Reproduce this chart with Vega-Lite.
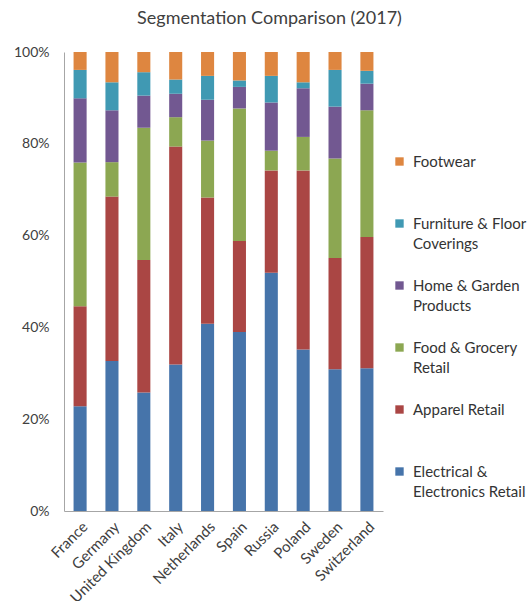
{
  "$schema": "https://vega.github.io/schema/vega-lite/v6.json",
  "autosize": {"type": "none"},
  "width": 319,
  "height": 459,
  "padding": {"left": 64, "top": 52, "right": 147, "bottom": 90},
  "background": "white",
  "title": {
    "text": "Segmentation Comparison (2017)",
    "font": "Lato",
    "fontSize": 18,
    "fontWeight": "normal",
    "color": "#404040",
    "anchor": "middle",
    "dx": 46,
    "baseline": "alphabetic",
    "offset": 3
  },
  "datasets": {
    "seg": [
      {"s": "Electrical & Electronics Retail", "k": 1},
      {"s": "Apparel Retail", "k": 2},
      {"s": "Food & Grocery Retail", "k": 3},
      {"s": "Home & Garden Products", "k": 4},
      {"s": "Furniture & Floor Coverings", "k": 5},
      {"s": "Footwear", "k": 6}
    ]
  },
  "data": {
    "values": [
      {"c": "France", "s": "Electrical & Electronics Retail", "v": 22.8},
      {"c": "France", "s": "Apparel Retail", "v": 21.8},
      {"c": "France", "s": "Food & Grocery Retail", "v": 31.3},
      {"c": "France", "s": "Home & Garden Products", "v": 14.0},
      {"c": "France", "s": "Furniture & Floor Coverings", "v": 6.2},
      {"c": "France", "s": "Footwear", "v": 3.9},
      {"c": "Germany", "s": "Electrical & Electronics Retail", "v": 32.7},
      {"c": "Germany", "s": "Apparel Retail", "v": 35.8},
      {"c": "Germany", "s": "Food & Grocery Retail", "v": 7.5},
      {"c": "Germany", "s": "Home & Garden Products", "v": 11.3},
      {"c": "Germany", "s": "Furniture & Floor Coverings", "v": 6.1},
      {"c": "Germany", "s": "Footwear", "v": 6.6},
      {"c": "United Kingdom", "s": "Electrical & Electronics Retail", "v": 25.8},
      {"c": "United Kingdom", "s": "Apparel Retail", "v": 28.9},
      {"c": "United Kingdom", "s": "Food & Grocery Retail", "v": 28.8},
      {"c": "United Kingdom", "s": "Home & Garden Products", "v": 7.0},
      {"c": "United Kingdom", "s": "Furniture & Floor Coverings", "v": 5.1},
      {"c": "United Kingdom", "s": "Footwear", "v": 4.4},
      {"c": "Italy", "s": "Electrical & Electronics Retail", "v": 31.9},
      {"c": "Italy", "s": "Apparel Retail", "v": 47.5},
      {"c": "Italy", "s": "Food & Grocery Retail", "v": 6.4},
      {"c": "Italy", "s": "Home & Garden Products", "v": 5.1},
      {"c": "Italy", "s": "Furniture & Floor Coverings", "v": 3.1},
      {"c": "Italy", "s": "Footwear", "v": 6.0},
      {"c": "Netherlands", "s": "Electrical & Electronics Retail", "v": 40.8},
      {"c": "Netherlands", "s": "Apparel Retail", "v": 27.5},
      {"c": "Netherlands", "s": "Food & Grocery Retail", "v": 12.4},
      {"c": "Netherlands", "s": "Home & Garden Products", "v": 8.9},
      {"c": "Netherlands", "s": "Furniture & Floor Coverings", "v": 5.2},
      {"c": "Netherlands", "s": "Footwear", "v": 5.2},
      {"c": "Spain", "s": "Electrical & Electronics Retail", "v": 39.0},
      {"c": "Spain", "s": "Apparel Retail", "v": 19.8},
      {"c": "Spain", "s": "Food & Grocery Retail", "v": 28.9},
      {"c": "Spain", "s": "Home & Garden Products", "v": 4.7},
      {"c": "Spain", "s": "Furniture & Floor Coverings", "v": 1.4},
      {"c": "Spain", "s": "Footwear", "v": 6.2},
      {"c": "Russia", "s": "Electrical & Electronics Retail", "v": 51.9},
      {"c": "Russia", "s": "Apparel Retail", "v": 22.3},
      {"c": "Russia", "s": "Food & Grocery Retail", "v": 4.3},
      {"c": "Russia", "s": "Home & Garden Products", "v": 10.5},
      {"c": "Russia", "s": "Furniture & Floor Coverings", "v": 5.8},
      {"c": "Russia", "s": "Footwear", "v": 5.2},
      {"c": "Poland", "s": "Electrical & Electronics Retail", "v": 35.2},
      {"c": "Poland", "s": "Apparel Retail", "v": 39.0},
      {"c": "Poland", "s": "Food & Grocery Retail", "v": 7.3},
      {"c": "Poland", "s": "Home & Garden Products", "v": 10.6},
      {"c": "Poland", "s": "Furniture & Floor Coverings", "v": 1.3},
      {"c": "Poland", "s": "Footwear", "v": 6.6},
      {"c": "Sweden", "s": "Electrical & Electronics Retail", "v": 30.9},
      {"c": "Sweden", "s": "Apparel Retail", "v": 24.2},
      {"c": "Sweden", "s": "Food & Grocery Retail", "v": 21.7},
      {"c": "Sweden", "s": "Home & Garden Products", "v": 11.3},
      {"c": "Sweden", "s": "Furniture & Floor Coverings", "v": 8.0},
      {"c": "Sweden", "s": "Footwear", "v": 3.9},
      {"c": "Switzerland", "s": "Electrical & Electronics Retail", "v": 31.1},
      {"c": "Switzerland", "s": "Apparel Retail", "v": 28.6},
      {"c": "Switzerland", "s": "Food & Grocery Retail", "v": 27.6},
      {"c": "Switzerland", "s": "Home & Garden Products", "v": 5.8},
      {"c": "Switzerland", "s": "Furniture & Floor Coverings", "v": 2.8},
      {"c": "Switzerland", "s": "Footwear", "v": 4.1}
    ]
  },
  "transform": [
    {"lookup": "s", "from": {"data": {"name": "seg"}, "key": "s", "fields": ["k"]}}
  ],
  "mark": {"type": "bar"},
  "encoding": {
    "x": {
      "field": "c",
      "type": "nominal",
      "sort": null,
      "scale": {"paddingInner": 0.59, "paddingOuter": 0.3},
      "axis": {
        "title": null,
        "labelAngle": -45,
        "ticks": false,
        "labelPadding": 8,
        "labelFont": "Lato",
        "labelFontSize": 15,
        "labelColor": "#404040",
        "domainColor": "#A6A6A6",
        "labelLimit": 200
      }
    },
    "y": {
      "field": "v",
      "type": "quantitative",
      "aggregate": "sum",
      "stack": "normalize",
      "scale": {"domain": [0, 1]},
      "axis": {
        "title": null,
        "values": [0, 0.2, 0.4, 0.6, 0.8, 1],
        "format": ".0%",
        "grid": false,
        "ticks": false,
        "labelPadding": 15,
        "labelFont": "Lato",
        "labelFontSize": 14,
        "labelColor": "#404040",
        "domainColor": "#A6A6A6"
      }
    },
    "order": {"field": "k", "type": "quantitative", "aggregate": "min", "sort": "ascending"},
    "color": {
      "field": "s",
      "type": "nominal",
      "scale": {
        "domain": ["Footwear", "Furniture & Floor Coverings", "Home & Garden Products", "Food & Grocery Retail", "Apparel Retail", "Electrical & Electronics Retail"],
        "range": ["#DE8640", "#4099B3", "#725891", "#8CA752", "#AA4644", "#4674AA"]
      },
      "legend": {
        "title": null,
        "orient": "none",
        "legendX": 328,
        "legendY": 102,
        "padding": 0,
        "symbolType": "square",
        "symbolSize": 70,
        "symbolStrokeWidth": 0,
        "labelFont": "Lato",
        "labelFontSize": 15,
        "labelColor": "#333333",
        "labelOffset": 6,
        "labelLimit": 200,
        "rowPadding": 26,
        "labelExpr": "datum.label == 'Furniture & Floor Coverings' ? ['Furniture & Floor', 'Coverings'] : datum.label == 'Home & Garden Products' ? ['Home & Garden', 'Products'] : datum.label == 'Food & Grocery Retail' ? ['Food & Grocery', 'Retail'] : datum.label == 'Electrical & Electronics Retail' ? ['Electrical &', 'Electronics Retail'] : [datum.label, ' ']"
      }
    }
  },
  "config": {
    "view": {"stroke": null},
    "style": {"guide-label": {"lineHeight": 20}}
  }
}
